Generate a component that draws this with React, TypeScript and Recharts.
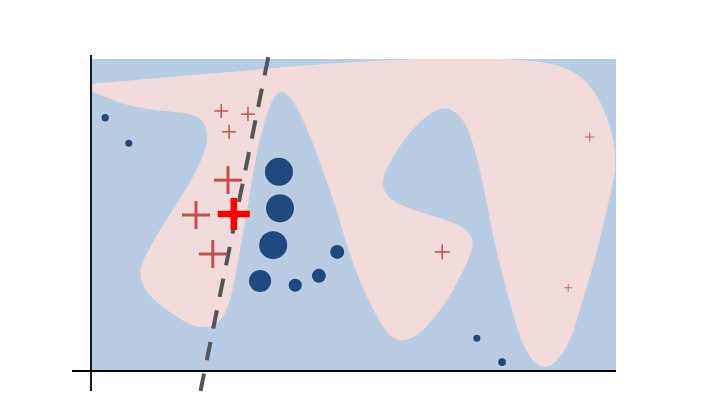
import { ScatterChart, Scatter, XAxis, YAxis, Curve } from "recharts";

// outline of the "+" decision region (x 0..100, y 0..60); corners on the frame are repeated
const POS_REGION: [number, number][] = [
  [0, 55.2], [0, 55.2], [0, 55.2], [11.2, 56.2], [28.4, 57.7], [39.8, 58.7], [49.3, 59.4],
  [62.7, 60], [62.7, 60], [62.7, 60], [77.9, 60], [77.9, 60], [77.9, 60],
  [85.5, 59.6], [90.3, 58.5], [94.1, 56.2], [97.0, 52.1], [98.7, 47.7],
  [99.8, 43.5], [100, 38.3], [98.5, 32.3], [97.1, 25.8], [95.4, 19.4], [93.5, 13.1],
  [92.2, 8.5], [90.7, 4.6], [88.8, 1.8], [86.5, 0.3], [84.0, 1.8], [81.7, 6.0],
  [79.8, 13.1], [78.1, 19.4], [76.6, 25.8], [75.4, 32.3], [74.5, 36.7], [73.5, 41.0],
  [72.4, 45.0], [70.9, 48.7], [68.0, 51.0], [65.0, 50.0], [61.7, 47.1], [58.9, 43.5],
  [56.6, 39.6], [55.0, 35.8], [57.0, 32.7], [61.3, 31.0], [67.8, 29.0], [71.6, 27.5],
  [73.2, 24.6], [71.8, 21.2], [69.9, 17.3], [67.4, 12.7], [64.0, 8.5], [61.3, 6.2],
  [58.9, 5.6], [56.4, 7.0], [54.5, 10.4], [51.8, 15.6], [48.8, 23.8], [47.4, 29.0],
  [45.5, 34.8], [44.0, 39.0], [42.3, 43.8], [40.4, 48.3], [38.5, 52.1], [36.8, 53.9],
  [35.2, 53.5], [33.7, 50.2], [32.4, 45.8], [31.2, 40.2], [30.1, 32.9], [28.8, 25.8],
  [27.4, 17.5], [26.3, 12.5], [24.6, 9.3], [21.7, 8.1], [18.9, 8.8], [16.0, 10.6],
  [12.6, 13.1], [10.0, 15.8], [9.0, 19.0], [10.5, 22.5], [13.1, 27.1], [16.4, 32.3],
  [18.9, 36.3], [20.8, 40.0], [22.3, 43.8], [21.9, 47.7], [19.8, 49.6], [13.1, 50.0],
  [7.0, 51.0], [3.6, 52.3], [0, 53.8], [0, 53.8], [0, 53.8],
];
const FIELD: [number, number][] = [[0, 0], [100, 0], [100, 60], [0, 60]];
const SEPARATOR: [number, number][] = [[33.77, 60.38], [20.86, -3.85]];
const LEFT_SPINE: [number, number][] = [[0, -3.85], [0, 60.77]];
const BOTTOM_SPINE: [number, number][] = [[-3.62, 0], [100, 0]];

// class -1 samples
const negX = [2.7, 7.2, 35.8, 36.0, 34.7, 32.2, 38.9, 43.4, 46.9, 73.5, 78.3];
const negY = [48.7, 43.8, 38.3, 31.3, 24.2, 17.3, 16.5, 18.3, 22.9, 6.3, 1.7];
const negW = [1.1, 1, 16, 16, 16, 10, 3.5, 4, 4, 1, 1.2];

// class +1 samples
const posX = [24.8, 29.9, 26.3, 26.1, 20.0, 23.2, 66.9, 95.0, 90.9];
const posY = [50.0, 49.4, 46.0, 36.7, 30.0, 22.5, 22.9, 45.0, 16.0];
const posW = [4, 4, 4, 16, 16, 16, 4.6, 1.65, 1.3];

// new point being classified
const queryX = 27.2;
const queryY = 30.2;
const queryW = 21;

const pts = (a: [number, number][]) => a.map(([x, y]) => ({ x, y }));
const samples = (xs: number[], ys: number[], ws: number[]) =>
  xs.map((x, i) => ({ x, y: ys[i], w: ws[i] }));

const UNIT = 3.5;
const noDot = () => <g />;

const polygon = (fill: string, type: "linearClosed" | "basisClosed") => (p: any) => (
  <Curve points={p.points} type={type} fill={fill} stroke="none" />
);
const segment = (stroke: string, width: number, dash?: string) => (p: any) => (
  <Curve
    points={p.points}
    type="linear"
    fill="none"
    stroke={stroke}
    strokeWidth={width}
    strokeDasharray={dash}
  />
);

const Dot = (p: any) => (
  <circle cx={p.cx} cy={p.cy} r={UNIT * Math.sqrt(p.payload.w)} fill="#1f497d" />
);

const Plus = (color: string, thick?: number) => (p: any) => {
  const h = UNIT * Math.sqrt(p.payload.w);
  const sw = thick ?? h / 4.7;
  return (
    <g stroke={color} strokeWidth={sw}>
      <line x1={p.cx - h} y1={p.cy} x2={p.cx + h} y2={p.cy} />
      <line x1={p.cx} y1={p.cy - h} x2={p.cx} y2={p.cy + h} />
    </g>
  );
};

export default function App() {
  return (
    <div style={{ position: "absolute", left: 0, top: 0, background: "#fff" }}>
      <ScatterChart
        width={704}
        height={406}
        margin={{ top: 55, right: 88, bottom: 15, left: 72 }}
      >
        <XAxis type="number" dataKey="x" domain={[-3.62, 100]} hide />
        <YAxis type="number" dataKey="y" domain={[-3.85, 60.77]} hide />

        <Scatter data={pts(FIELD)} shape={noDot} line={polygon("#b8cce4", "linearClosed")} isAnimationActive={false} />
        <Scatter data={pts(POS_REGION)} shape={noDot} line={polygon("#f2dcdb", "basisClosed")} isAnimationActive={false} />
        <Scatter data={pts(LEFT_SPINE)} shape={noDot} line={segment("#000", 1.8)} isAnimationActive={false} />
        <Scatter data={pts(BOTTOM_SPINE)} shape={noDot} line={segment("#000", 1.8)} isAnimationActive={false} />
        <Scatter
          data={pts(SEPARATOR)}
          shape={noDot}
          line={segment("#555555", 4, "18.7 13.6")}
          isAnimationActive={false}
        />

        <Scatter data={samples(negX, negY, negW)} shape={Dot} isAnimationActive={false} />
        <Scatter data={samples(posX, posY, posW)} shape={Plus("#c0504d")} isAnimationActive={false} />
        <Scatter
          data={[{ x: queryX, y: queryY, w: queryW }]}
          shape={Plus("#ff0000", 6.5)}
          isAnimationActive={false}
        />
      </ScatterChart>
    </div>
  );
}
